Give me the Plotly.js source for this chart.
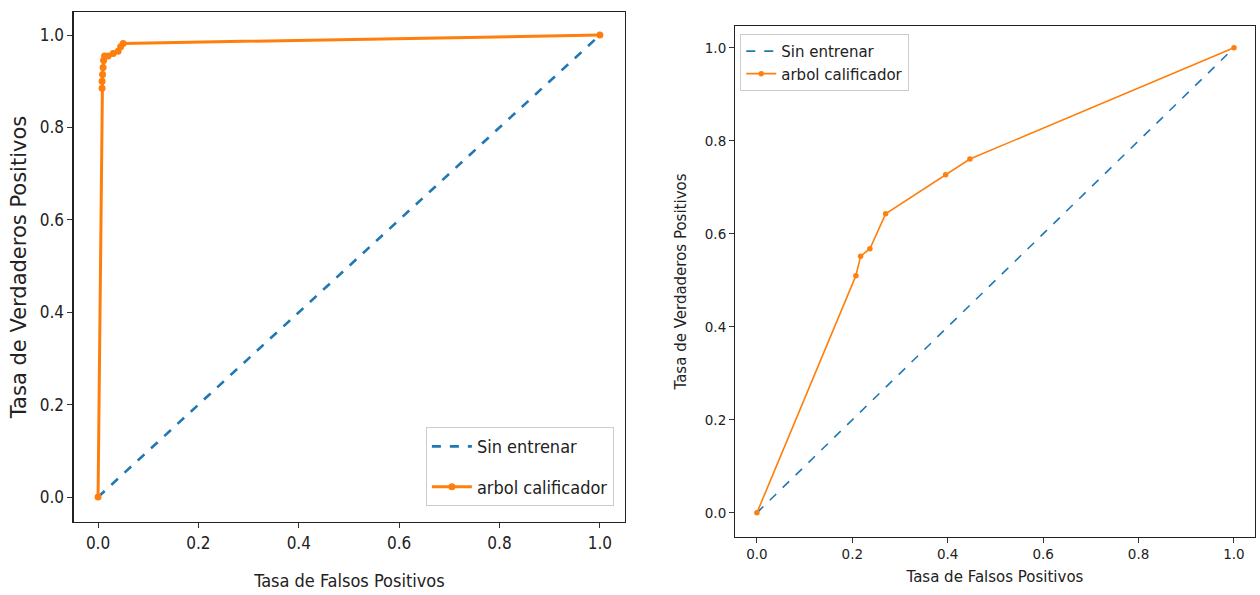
<!DOCTYPE html>
<html><head><meta charset="utf-8">
<script src="https://cdn.plot.ly/plotly-3.0.1.min.js"></script>
<style>body{margin:0;background:#fff}#c{width:1260px;height:595px}</style>
</head><body><div id="c"></div>
<script>
// Reference (untrained) line
const baseX = [0, 1];
const baseY = [0, 1];
// Left chart: arbol calificador ROC
const leftFPR = [0, 0.008, 0.008, 0.009, 0.01, 0.011, 0.013, 0.02, 0.03, 0.04, 0.045, 0.05, 1];
const leftTPR = [0, 0.885, 0.9, 0.915, 0.93, 0.945, 0.955, 0.955, 0.96, 0.965, 0.975, 0.982, 1];
// Right chart: arbol calificador ROC
const rightFPR = [0, 0.2075, 0.2174, 0.2369, 0.2698, 0.3956, 0.4465, 1];
const rightTPR = [0, 0.510, 0.552, 0.568, 0.643, 0.727, 0.761, 1];
const ticks = [0, 0.2, 0.4, 0.6, 0.8, 1.0];
const names = ['Sin entrenar', 'arbol calificador'];
const xTitle = 'Tasa de Falsos Positivos';
const yTitle = 'Tasa de Verdaderos Positivos';

const blue = '#1f77b4', orange = '#ff7f0e';
const condensed = '"DejaVu Sans Condensed", "Liberation Sans Narrow", "DejaVu Sans", sans-serif';
const dv = '"DejaVu Sans", sans-serif';

const data = [
  {x: baseX, y: baseY, mode: 'lines', name: names[0], line: {color: blue, dash: 'dash', width: 2.6}, xaxis: 'x', yaxis: 'y', legend: 'legend', legendgroup: 'a'},
  {x: leftFPR, y: leftTPR, mode: 'lines+markers', name: names[1], line: {color: orange, width: 3}, marker: {color: orange, size: 7}, xaxis: 'x', yaxis: 'y', legend: 'legend', legendgroup: 'b'},
  {x: baseX, y: baseY, mode: 'lines', name: names[0], line: {color: blue, dash: 'dash', width: 1.6}, xaxis: 'x2', yaxis: 'y2', legend: 'legend2', legendgroup: 'c'},
  {x: rightFPR, y: rightTPR, mode: 'lines+markers', name: names[1], line: {color: orange, width: 1.6}, marker: {color: orange, size: 5.5}, xaxis: 'x2', yaxis: 'y2', legend: 'legend2', legendgroup: 'd'}
];

function ax(domain, range, fontFam, fsz, title, tfam, tsz, standoff, lw) {
  return {
    domain: domain, range: range, tickvals: ticks, tickformat: '.1f',
    ticks: 'outside', ticklen: 5, tickwidth: 1, tickcolor: '#333',
    showline: true, mirror: true, linecolor: '#222', linewidth: lw,
    showgrid: false, zeroline: false,
    tickfont: {family: fontFam, size: fsz, color: '#222'},
    title: {text: title, font: {family: tfam, size: tsz, color: '#222'}, standoff: standoff}
  };
}

const layout = {
  width: 1260, height: 595,
  margin: {l: 0, r: 0, t: 0, b: 0},
  paper_bgcolor: '#fff', plot_bgcolor: '#fff',
  showlegend: true,
  xaxis: Object.assign(ax([0.0587, 0.496], [-0.048, 1.05], condensed, 17, xTitle, condensed, 18, 22, 1.5), {anchor: 'y'}),
  yaxis: Object.assign(ax([0.1227, 0.9798], [-0.054, 1.05], condensed, 17, yTitle, dv, 21, 7, 1.5), {anchor: 'x'}),
  xaxis2: Object.assign(ax([0.5833, 0.996], [-0.046, 1.044], dv, 13.5, xTitle, dv, 15, 10, 1), {anchor: 'y2'}),
  yaxis2: Object.assign(ax([0.0975, 0.9563], [-0.052, 1.047], dv, 13.5, yTitle, dv, 15, 14, 1), {anchor: 'x2'}),
  legend: {x: 0.338, y: 0.282, xanchor: 'left', yanchor: 'top', bgcolor: '#fff', bordercolor: '#ccc', borderwidth: 1,
           font: {family: condensed, size: 18, color: '#222'}, tracegroupgap: 14, itemwidth: 40},
  legend2: {x: 0.5875, y: 0.943, xanchor: 'left', yanchor: 'top', bgcolor: '#fff', bordercolor: '#ccc', borderwidth: 1,
            font: {family: dv, size: 15, color: '#222'}, tracegroupgap: 0, itemwidth: 30}
};

Plotly.newPlot('c', data, layout, {displayModeBar: false, staticPlot: true});
</script></body></html>
